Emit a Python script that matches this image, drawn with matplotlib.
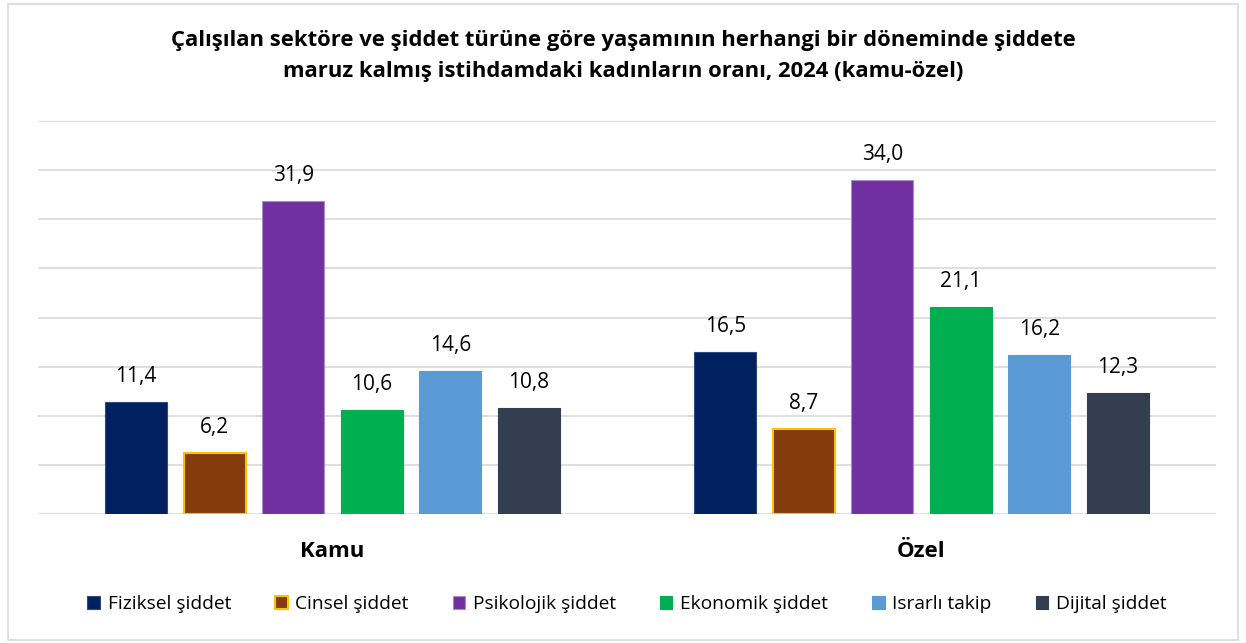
import numpy as np
import matplotlib.pyplot as plt
from matplotlib.patches import Rectangle

plt.rcParams['font.family'] = ['Open Sans', 'DejaVu Sans']

categories = ['Kamu', 'Özel']
series = ['Fiziksel şiddet', 'Cinsel şiddet', 'Psikolojik şiddet',
          'Ekonomik şiddet', 'Israrlı takip', 'Dijital şiddet']
fiziksel = [11.4, 16.5]
cinsel = [6.2, 8.7]
psikolojik = [31.9, 34.0]
ekonomik = [10.6, 21.1]
israrli = [14.6, 16.2]
dijital = [10.8, 12.3]
values = [fiziksel, cinsel, psikolojik, ekonomik, israrli, dijital]

colors = ['#002060', '#843C0C', '#7030A0', '#00B050', '#5B9BD5', '#333F50']
edges = ['#2F4A80', '#FFC000', '#A98CC8', '#00B050', '#5B9BD5', '#333F50']

fig = plt.figure(figsize=(12.46, 6.43), dpi=100)
ax = fig.add_axes([38 / 1246, 1 - 514 / 643, 1178 / 1246, 393 / 643])

# light border around the whole chart
fig.patches.append(Rectangle((8 / 1246, 3 / 643), 1230 / 1246, 636 / 643,
                             transform=fig.transFigure, fill=False,
                             edgecolor='#D9D9D9', linewidth=1.2))

x = np.arange(len(categories))
step = 0.1333
width = 0.105
for i, (name, vals) in enumerate(zip(series, values)):
    pos = x + (i - 2.5) * step
    bars = ax.bar(pos, vals, width, color=colors[i], edgecolor=edges[i],
                  linewidth=1.5 if i == 1 else 0.8, label=name, zorder=3)
    for b, v in zip(bars, vals):
        ax.text(b.get_x() + b.get_width() / 2, v + 1.5,
                f'{v:.1f}'.replace('.', ','), ha='center', va='bottom',
                fontsize=15, color='#000000')

ax.set_xlim(-0.5, 1.5)
ax.set_ylim(0, 40)
ax.set_yticks(np.arange(0, 41, 5))
ax.yaxis.grid(True, color='#D9D9D9', linewidth=1.2, zorder=0)
ax.tick_params(axis='y', left=False, labelleft=False)
ax.tick_params(axis='x', bottom=False, pad=16)
ax.set_xticks(x)
ax.set_xticklabels(categories, fontsize=16, fontweight='bold')
for s in ax.spines.values():
    s.set_visible(False)

fig.suptitle('Çalışılan sektöre ve şiddet türüne göre yaşamının herhangi bir döneminde şiddete\n'
             'maruz kalmış istihdamdaki kadınların oranı, 2024 (kamu-özel)',
             y=1 - 30 / 643, fontsize=15.8, fontweight='bold', linespacing=1.6)

ax.legend(loc='center', bbox_to_anchor=(0.5, -0.229), ncol=6, frameon=False,
          fontsize=13.8, handlelength=0.65, handleheight=0.65,
          handletextpad=0.4, columnspacing=2.3)

fig.savefig('out.png', dpi=100)
